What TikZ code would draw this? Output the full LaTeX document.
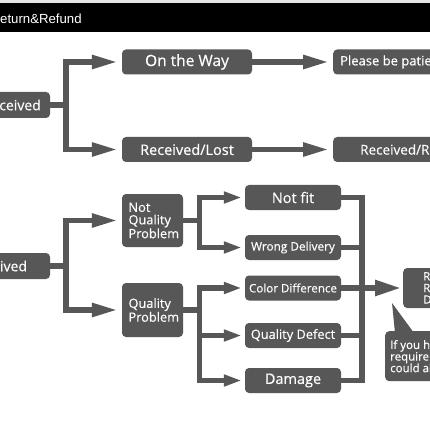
\documentclass[tikz,border=0pt]{standalone}
\usepackage{fontspec}
\setmainfont{Open Sans}
\newfontfamily\medfont{Open Sans}[FakeBold=0.35]
\newfontfamily\headfont{Liberation Sans}
\usetikzlibrary{arrows.meta}
\definecolor{boxgray}{HTML}{575757}
\begin{document}
\begin{tikzpicture}[x=1pt,y=-1pt,
  box/.style={fill=boxgray, rounded corners=4pt, text=white, inner sep=0pt,
    minimum height=25pt, font=\medfont\fontsize{14}{16}\selectfont},
  fs/.style={font=\medfont\fontsize{#1}{#1}\selectfont},
  conn/.style={draw=boxgray, line width=5.5pt},
  bigarrow/.style={conn, -{Triangle[length=26pt,width=13pt]}, shorten >=4pt},
  smallarrow/.style={conn, -{Triangle[length=18pt,width=11pt]}, shorten >=3pt},
  rarrow/.style={conn, -{Triangle[length=26pt,width=15pt]}, shorten >=2pt},
]
\useasboundingbox (0,0) rectangle (430,430);
\clip (0,0) rectangle (430,430);
\fill[white] (0,0) rectangle (430,430);
\fill[gray!20] (0,0) rectangle (430,3);
\fill[black] (0,3) rectangle (430,32);
\node[anchor=base west, text=white, inner sep=0pt,
  font=\headfont\fontsize{13.2}{14}\selectfont] (title) at (-9.5,23.5) {Return\&Refund};

% section 1
\node[box, minimum width=104pt, minimum height=26pt] (nr1) at (-2,105) {Not Received};
\node[box, minimum width=130pt, fs=15.5] (otw) at (187,62) {On the Way};
\node[box, minimum width=130pt, fs=14.5] (rl) at (187,149.5) {Received/Lost};
\node[box, anchor=west, inner xsep=7pt, fs=13] (pbp) at (333,62) {Please be patient};
\node[box, anchor=west, inner xsep=27pt, fs=13.5] (rr) at (333,149.5) {Received/Refund};
\draw[bigarrow] (nr1.east) -- ++(16,0) |- (otw.west);
\draw[bigarrow] (nr1.east) -- ++(16,0) |- (rl.west);
\draw[bigarrow] (otw.east) -- (pbp.west);
\draw[bigarrow] (rl.east) -- (rr.west);

% section 2
\node[box, minimum width=104pt, minimum height=26pt] (nr2) at (-2,266) {Received};
\node[box, minimum width=61pt, minimum height=53pt, text width=48pt, align=left,
  font=\medfont\fontsize{12.8}{12.5}\selectfont] (nqp) at (152.5,220.5) {Not\\Quality\\Problem};
\node[box, minimum width=61pt, minimum height=54pt, text width=48pt, align=left,
  font=\medfont\fontsize{12.8}{12.5}\selectfont] (qp) at (152.5,310) {Quality\\Problem};
\draw[bigarrow] (nr2.east) -- ++(16,0) |- (nqp.west);
\draw[bigarrow] (nr2.east) -- ++(16,0) |- (qp.west);

\node[box, minimum width=96pt, fs=14.5] (nf) at (293,197.5) {Not fit};
\node[box, minimum width=96pt, fs=11.8] (wd) at (293,247.5) {Wrong Delivery};
\node[box, minimum width=96pt, fs=11.6] (cd) at (293,288) {Color Difference};
\node[box, minimum width=96pt, fs=12.8] (qd) at (293,335.5) {Quality Defect};
\node[box, minimum width=96pt, fs=14.5] (dm) at (293,380.5) {Damage};

\draw[smallarrow] (nqp.east) -- ++(16.5,0) |- (nf.west);
\draw[smallarrow] (nqp.east) -- ++(16.5,0) |- (wd.west);
\draw[smallarrow] (qp.east) -- ++(16.5,0) |- (cd.west);
\draw[smallarrow] (qp.east) -- ++(16.5,0) |- (qd.west);
\draw[smallarrow] (qp.east) -- ++(16.5,0) |- (dm.west);

\draw[conn] (nf.east) -- ++(21,0) |- (dm.east);
\draw[conn] (wd.east) -- ++(21,0);
\draw[conn] (cd.east) -- ++(21,0);
\draw[conn] (qd.east) -- ++(21,0);

\node[box, anchor=west, minimum height=40pt, inner xsep=20pt, align=left,
  font=\medfont\fontsize{11.5}{11.6}\selectfont] (rb) at (403,288) {Return\\Refund\\Discount};
\draw[rarrow] (cd.east) -- (rb.west);

% callout
\node[box, anchor=north west, minimum height=50pt, inner xsep=5pt, align=left,
  font=\medfont\fontsize{11.5}{11.6}\selectfont] (note) at (385,331)
  {If you have any other\\requirements, you\\could also contact us};
\coordinate (tip) at (392,303);
\fill[boxgray] (tip) -- (395,333) -- (414,333) -- cycle;
\end{tikzpicture}
\end{document}
